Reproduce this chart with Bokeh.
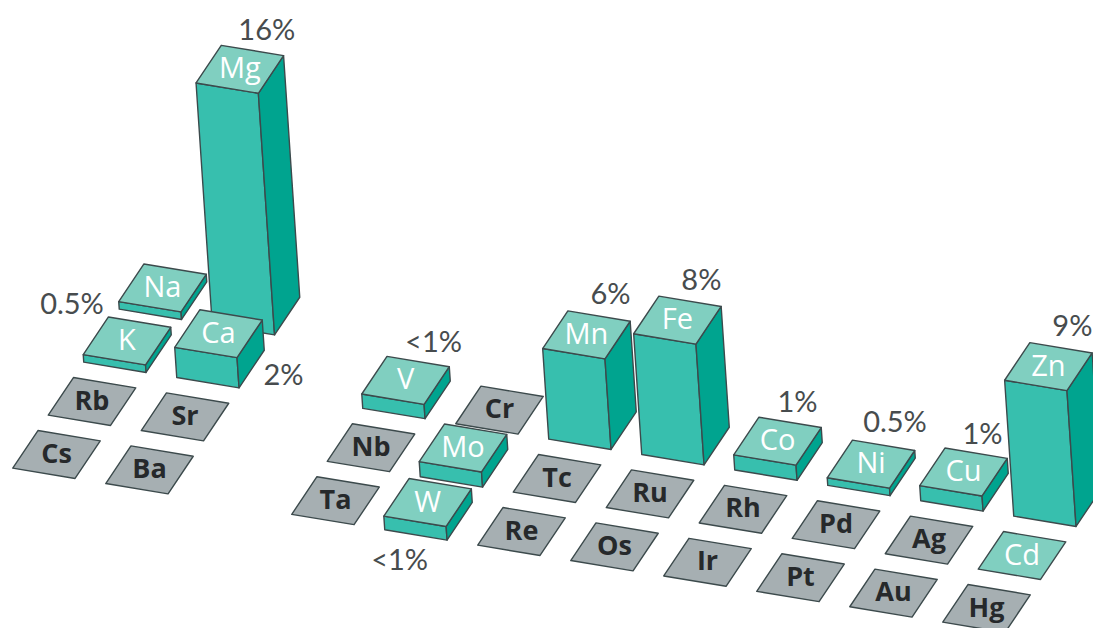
from bokeh.plotting import figure
from bokeh.models import ColumnDataSource, Range1d
from bokeh.core.properties import value
from bokeh.embed import file_html
from bokeh.resources import INLINE

# ---- data -----------------------------------------------------------------
elements = ["Na", "Mg", "K", "Ca", "V", "Cr", "Mn", "Fe", "Co", "Ni", "Cu", "Zn",
            "Rb", "Sr", "Nb", "Mo", "Tc", "Ru", "Rh", "Pd", "Ag", "Cd",
            "Cs", "Ba", "Ta", "W", "Re", "Os", "Ir", "Pt", "Au", "Hg"]
groups = [1, 2, 1, 2, 5, 6, 7, 8, 9, 10, 11, 12,
          1, 2, 5, 6, 7, 8, 9, 10, 11, 12,
          1, 2, 5, 6, 7, 8, 9, 10, 11, 12]
periods = [3, 3, 4, 4, 4, 4, 4, 4, 4, 4, 4, 4,
           5, 5, 5, 5, 5, 5, 5, 5, 5, 5,
           6, 6, 6, 6, 6, 6, 6, 6, 6, 6]
# None: grey, not part of the set. 0: coloured tile with no height.
percent = [0.5, 16, 0.5, 2, 0.95, None, 6, 8, 1, 0.5, 1, 9,
           None, None, None, 1, None, None, None, None, None, 0,
           None, None, None, 0.9, None, None, None, None, None, None]
value_labels = {"Mg": "16%", "K": "0.5%", "Ca": "2%", "V": "<1%", "Mn": "6%", "Fe": "8%",
                "Co": "1%", "Ni": "0.5%", "Cu": "1%", "Zn": "9%", "W": "<1%"}

# ---- layout and style -----------------------------------------------------
label_offsets = {"Mg": (27, -41), "K": (-55, -38), "Ca": (65, 40), "V": (28, -40),
                 "Mn": (24, -42), "Fe": (24, -42), "Co": (20, -41), "Ni": (24, -44),
                 "Cu": (19, -40), "Zn": (24, -42), "W": (-28, 56)}
ORIGIN = (56, 454)
COL = (93, 15.4)
ROW = (35.5, -53)
HALF_W = 0.335
HALF_D = 0.355
PX_PER_PERCENT = 15.1
TILT = 0.067
NAME_RAISE = 2.5
TOP, FRONT, SIDE, GREY = "#80cfc0", "#37bfae", "#00a48f", "#a6afb2"
EDGE = "#3c4a4c"


def base_point(col, row, u, v):
    cu, cv = col + u, row + v
    return (ORIGIN[0] + cu * COL[0] + cv * ROW[0], ORIGIN[1] + cu * COL[1] + cv * ROW[1])


def lift(pt, h):
    return (pt[0] - TILT * h, pt[1] - h)


cells = []
for el, g, per, pct in zip(elements, groups, periods, percent):
    cells.append(dict(el=el, col=g - 1 if g <= 2 else g - 2, row=6 - per, pct=pct))
# painter's order: back rows first, then left to right
cells.sort(key=lambda d: (-d["row"], d["col"]))

xs, ys, fills = [], [], []
white_t = dict(x=[], y=[], text=[])
grey_t = dict(x=[], y=[], text=[])
pct_t = dict(x=[], y=[], text=[])


def add_face(points, fill):
    xs.append([pt[0] for pt in points])
    ys.append([pt[1] for pt in points])
    fills.append(fill)


for d in cells:
    c, r, pct = d["col"], d["row"], d["pct"]
    h = (pct or 0) * PX_PER_PERCENT
    fl = base_point(c, r, -HALF_W, -HALF_D)
    fr = base_point(c, r, HALF_W, -HALF_D)
    br = base_point(c, r, HALF_W, HALF_D)
    bl = base_point(c, r, -HALF_W, HALF_D)
    if pct is None:
        add_face([fl, fr, br, bl], GREY)
    else:
        if h > 0:
            add_face([fl, fr, lift(fr, h), lift(fl, h)], FRONT)
            add_face([fr, br, lift(br, h), lift(fr, h)], SIDE)
        add_face([lift(fl, h), lift(fr, h), lift(br, h), lift(bl, h)], TOP)
    cx, cy = lift(base_point(c, r, 0, 0), h)
    target = grey_t if pct is None else white_t
    target["x"].append(cx)
    target["y"].append(cy - NAME_RAISE)
    target["text"].append(d["el"])
    if d["el"] in value_labels:
        dx, dy = label_offsets[d["el"]]
        pct_t["x"].append(cx + dx)
        pct_t["y"].append(cy + dy)
        pct_t["text"].append(value_labels[d["el"]])

p = figure(width=1093, height=628, output_backend="svg", toolbar_location=None,
           x_range=Range1d(0, 1093), y_range=Range1d(628, 0),
           min_border=0, outline_line_color=None, background_fill_color="#ffffff")
p.xaxis.visible = False
p.yaxis.visible = False
p.grid.visible = False

p.patches(xs="xs", ys="ys", fill_color="fill", line_color=EDGE, line_width=1.4,
          line_join="round",
          source=ColumnDataSource(dict(xs=xs, ys=ys, fill=fills)))
p.text(x="x", y="y", text="text", text_color="#ffffff", text_font=value("Open Sans"),
       text_font_size="29px", text_align="center", text_baseline="middle",
       source=ColumnDataSource(white_t))
p.text(x="x", y="y", text="text", text_color="#26292b", text_font=value("Open Sans"),
       text_font_size="27px", text_font_style="bold", text_align="center", text_baseline="middle",
       source=ColumnDataSource(grey_t))
p.text(x="x", y="y", text="text", text_color="#474c4e", text_font=value("Lato"),
       text_font_size="29px", text_align="center", text_baseline="middle",
       source=ColumnDataSource(pct_t))

open("out.html", "w").write(file_html(p, INLINE))
